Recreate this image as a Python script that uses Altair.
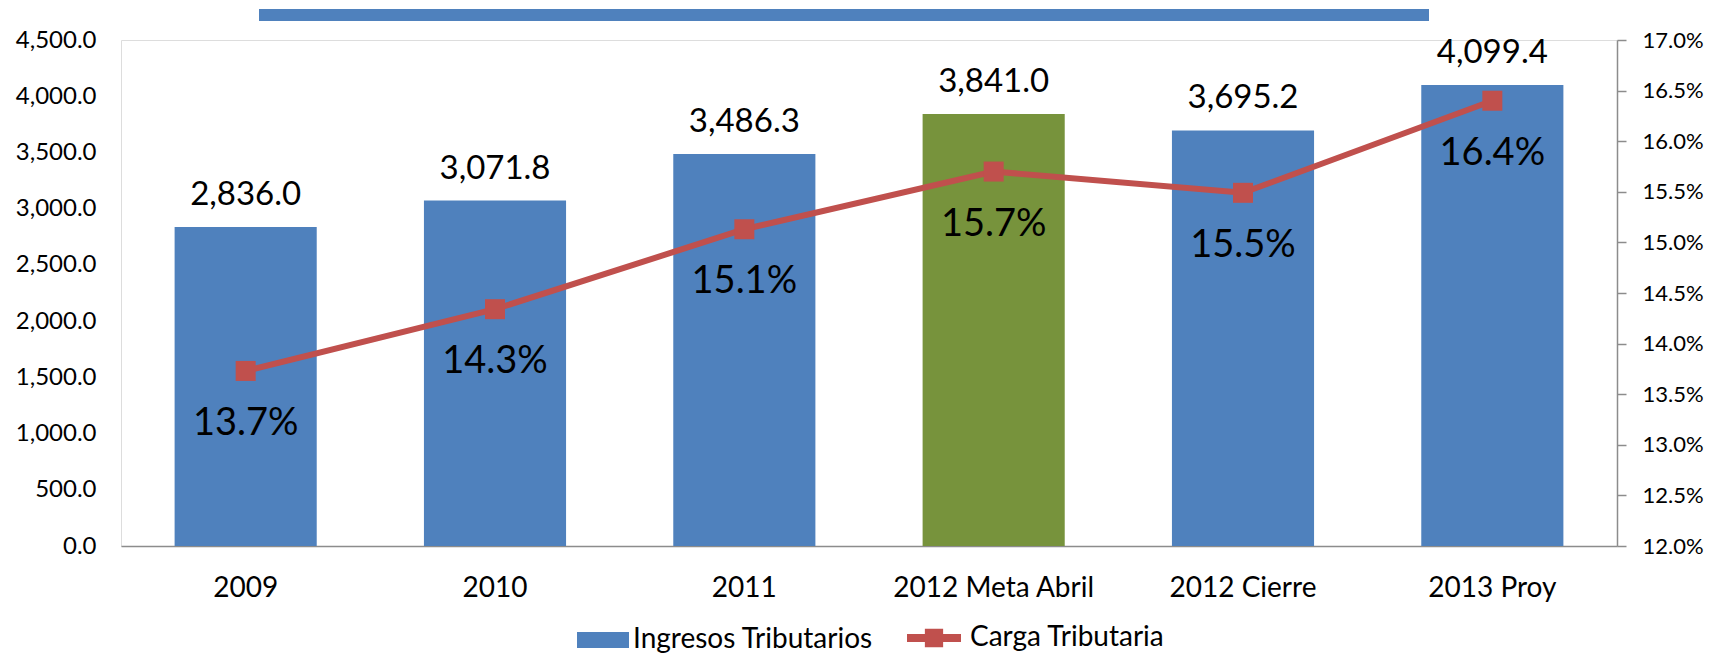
import altair as alt
import pandas as pd

categorias = ["2009", "2010", "2011", "2012 Meta Abril", "2012 Cierre", "2013 Proy"]
ingresos = [2836.0, 3071.8, 3486.3, 3841.0, 3695.2, 4099.4]
carga = [0.1373, 0.1434, 0.1513, 0.1570, 0.1549, 0.1640]
ticks_izq = [0, 500, 1000, 1500, 2000, 2500, 3000, 3500, 4000, 4500]
ticks_der = [0.12, 0.125, 0.13, 0.135, 0.14, 0.145, 0.15, 0.155, 0.16, 0.165, 0.17]

df = pd.DataFrame({
    "cat": categorias,
    "ingresos": ingresos,
    "carga": carga,
    "s_bar": ["Ingresos Tributarios"] * 6,
    "s_line": ["Carga Tributaria"] * 6,
})

FONT = "Lato"
BLUE = "#4F81BD"
GREEN = "#77933C"
RED = "#C0504D"
GRAY = "#8C8C8C"

x_enc = alt.X("cat:N", sort=categorias, title=None,
              scale=alt.Scale(paddingInner=0.43, paddingOuter=0.215),
              axis=alt.Axis(labelAngle=0, labelFontSize=28, labelPadding=28,
                            ticks=False, domainColor=GRAY, domainWidth=1.5,
                            labelColor="black", labelFont=FONT, labelLimit=400))

yl = alt.Y("ingresos:Q", title=None,
           scale=alt.Scale(domain=[0, 4500], nice=False),
           axis=alt.Axis(values=ticks_izq, format=",.1f", grid=False, domain=False,
                         ticks=False, labelFontSize=24, labelPadding=25,
                         labelColor="black", labelFont=FONT))

base = alt.Chart(df)

bars = base.mark_bar().encode(
    x=x_enc,
    y=yl,
    fill=alt.condition(
        "datum.cat == '2012 Meta Abril'",
        alt.value(GREEN),
        alt.Fill("s_bar:N",
                 scale=alt.Scale(domain=["Ingresos Tributarios"], range=[BLUE]),
                 legend=alt.Legend(title=None, orient="none", legendX=456, legendY=574,
                                   symbolType="M-1,-0.31H1V0.31H-1Z", symbolSize=2704,
                                   symbolStrokeWidth=0, labelFontSize=28, labelFont=FONT,
                                   labelColor="black", labelOffset=4, padding=0,
                                   labelLimit=400)),
    ),
)

bar_labels = base.mark_text(baseline="alphabetic", dy=-22, fontSize=33, font=FONT,
                            color="black").encode(
    x=alt.X("cat:N", sort=categorias),
    y=alt.Y("ingresos:Q"),
    text=alt.Text("ingresos:Q", format=",.1f"),
)

top_bar = alt.Chart(pd.DataFrame({"k": [0]})).mark_rect(color=BLUE).encode(
    x=alt.value(138), x2=alt.value(1308), y=alt.value(-31), y2=alt.value(-19)
)

left = alt.layer(bars, bar_labels, top_bar)

yr = alt.Y("carga:Q", title=None,
           scale=alt.Scale(domain=[0.12, 0.17], nice=False, zero=False),
           axis=alt.Axis(orient="right", values=ticks_der, format=".1%", grid=False,
                         domainColor=GRAY, domainWidth=1.5, tickColor=GRAY, tickWidth=1.5,
                         tickSize=9, labelPadding=16, labelFontSize=22,
                         labelColor="black", labelFont=FONT))

line = base.mark_line(strokeWidth=6).encode(
    x=alt.X("cat:N", sort=categorias),
    y=yr,
    stroke=alt.Stroke("s_line:N",
                      scale=alt.Scale(domain=["Carga Tributaria"], range=[RED]),
                      legend=alt.Legend(title=None, orient="none", legendX=782, legendY=567,
                                        symbolType="M-1,0H1M-0.19,-0.19H0.19V0.19H-0.19Z",
                                        symbolSize=2916, symbolStrokeWidth=8,
                                        symbolFillColor=RED, symbolStrokeColor=RED,
                                        labelFontSize=28, labelFont=FONT,
                                        labelColor="black", labelOffset=5, padding=0,
                                        labelLimit=400)),
)

points = base.mark_square(size=400, color=RED, opacity=1).encode(
    x=alt.X("cat:N", sort=categorias),
    y=alt.Y("carga:Q"),
)

pct_labels = base.mark_text(baseline="middle", dy=53, fontSize=38, font=FONT,
                            color="black").encode(
    x=alt.X("cat:N", sort=categorias),
    y=alt.Y("carga:Q"),
    text=alt.Text("carga:Q", format=".1%"),
)

right = alt.layer(line, points, pct_labels)

chart = alt.layer(left, right).resolve_scale(y="independent").properties(
    width=1496, height=506,
    padding={"left": 113, "top": 32, "right": 87, "bottom": 108},
    autosize=alt.AutoSizeParams(type="none"),
).configure_view(stroke=None).configure(font=FONT)

chart.save("out.html", embed_options={"renderer": "svg", "actions": False})
